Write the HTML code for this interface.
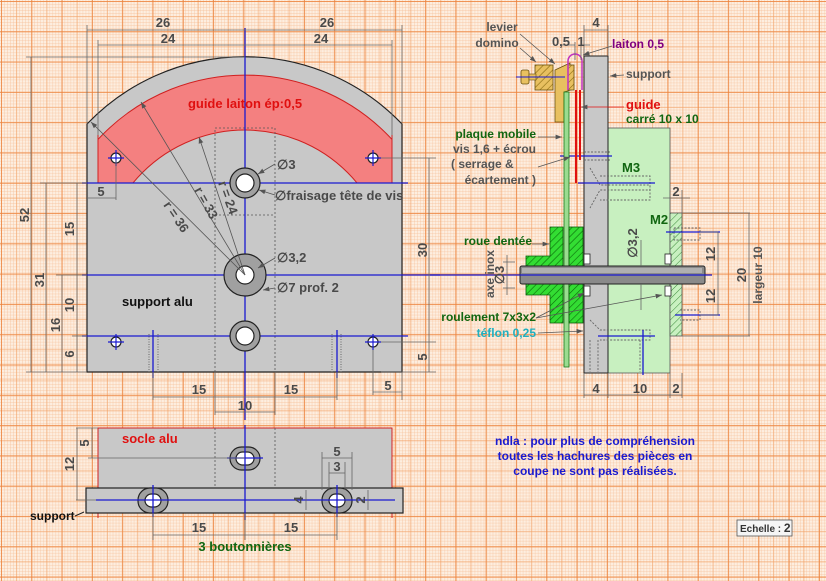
<!DOCTYPE html>
<html><head><meta charset="utf-8"><style>
html,body{margin:0;padding:0;}
body{width:826px;height:581px;overflow:hidden;background-color:#fdeee0;
background-image:
linear-gradient(90deg,rgba(236,130,60,.7) 1px,transparent 1px),
linear-gradient(rgba(236,130,60,.7) 1px,transparent 1px),
linear-gradient(90deg,rgba(242,160,100,.55) 1px,transparent 1px),
linear-gradient(rgba(242,160,100,.55) 1px,transparent 1px),
linear-gradient(90deg,rgba(246,190,150,.4) 1px,transparent 1px),
linear-gradient(rgba(246,190,150,.4) 1px,transparent 1px);
background-size:30.3px 30.3px,30.3px 30.3px,15.15px 15.15px,15.15px 15.15px,3.03px 3.03px,3.03px 3.03px;
background-position:1px 1px;}
svg{position:absolute;left:0;top:0;}
text{font-family:"Liberation Sans",sans-serif;font-weight:bold;}
.d{fill:#4a4a4a;font-size:13px;}
.g{fill:#555;font-size:12px;}
</style></head><body>
<svg width="826" height="581" viewBox="0 0 826 581">
<defs>
<marker id="a" markerWidth="8" markerHeight="6" refX="8" refY="3" orient="auto"><path d="M0,0 L8,3 L0,6z" fill="#555"/></marker>
<pattern id="hy" width="5" height="5" patternUnits="userSpaceOnUse" patternTransform="rotate(45)"><rect width="5" height="5" fill="#e8c060"/><line x1="0" y1="0" x2="0" y2="5" stroke="#8a6a10" stroke-width="1.2"/></pattern>
<pattern id="hg" width="5" height="5" patternUnits="userSpaceOnUse" patternTransform="rotate(45)"><rect width="5" height="5" fill="#33dd33"/><line x1="0" y1="0" x2="0" y2="5" stroke="#0a6a0a" stroke-width="1.2"/></pattern>
<pattern id="hl" width="5" height="5" patternUnits="userSpaceOnUse" patternTransform="rotate(45)"><rect width="5" height="5" fill="#c8f0c0"/><line x1="0" y1="0" x2="0" y2="5" stroke="#3a8a3a" stroke-width="1"/></pattern>
<clipPath id="cp"><rect x="98" y="40" width="294" height="143"/></clipPath>
</defs>

<path d="M87,372 L87,124 A218,218 0 0 1 402,124 L402,372 Z" fill="#c8c8c8" stroke="#222" stroke-width="1.2"/>
<g clip-path="url(#cp)">
<path d="M45,275 A200,200 0 0 1 445,275 L390,275 A145,145 0 0 0 100,275 Z" fill="#f48080" stroke="#d02020" stroke-width="1"/>
</g>
<line x1="98" y1="135" x2="98" y2="183" stroke="#d02020"/>
<line x1="392" y1="135" x2="392" y2="183" stroke="#d02020"/>
<path d="M215,372 L215,128 L275,128 L275,372 M215,215 L275,215" fill="none" stroke="#555" stroke-dasharray="2,2" stroke-width="0.8"/>
<g stroke="#1a1ad0" stroke-width="1.3">
<line x1="245" y1="28" x2="245" y2="420"/>
<line x1="82" y1="183" x2="408" y2="183"/>
<line x1="82" y1="275" x2="440" y2="275"/>
<line x1="82" y1="336" x2="408" y2="336"/>
<line x1="153" y1="330" x2="153" y2="378"/><line x1="337" y1="330" x2="337" y2="378"/>
</g>
<g stroke="#666" stroke-dasharray="1,1.5" stroke-width="1"><line x1="149" y1="334" x2="149" y2="372"/><line x1="158" y1="334" x2="158" y2="372"/><line x1="332" y1="334" x2="332" y2="372"/><line x1="341" y1="334" x2="341" y2="372"/></g>
<g stroke="#222" stroke-width="1.2">
<circle cx="245" cy="183" r="15" fill="#a0a0a0"/><circle cx="245" cy="183" r="9" fill="#fff"/>
<circle cx="245" cy="275" r="21" fill="#a0a0a0"/><circle cx="245" cy="275" r="9" fill="#fff"/>
<circle cx="245" cy="336" r="15" fill="#a0a0a0"/><circle cx="245" cy="336" r="9" fill="#fff"/>
<circle cx="116" cy="158" r="5" fill="#fff"/><circle cx="373" cy="158" r="5" fill="#fff"/>
<circle cx="116" cy="342" r="5" fill="#fff"/><circle cx="373" cy="342" r="5" fill="#fff"/>
</g>
<g stroke="#1a1ad0" stroke-width="1.2"><path d="M108,158h16M116,150v16M365,158h16M373,150v16M108,342h16M116,334v16M365,342h16M373,334v16"/></g>
<g stroke="#555" stroke-width="0.8"><line x1="245" y1="275" x2="91" y2="122" marker-end="url(#a)"/><line x1="245" y1="275" x2="141" y2="102" marker-end="url(#a)"/><line x1="245" y1="275" x2="199" y2="137" marker-end="url(#a)"/></g>
<text class="d" transform="translate(163,205) rotate(56)">r = 36</text>
<text class="d" transform="translate(194,190) rotate(61)">r = 33</text>
<text class="d" transform="translate(218,183) rotate(70)">r = 24</text>
<text x="245" y="108" text-anchor="middle" fill="#e01010" font-size="13">guide laiton ép:0,5</text>
<text class="d" x="277" y="169">∅3</text>
<text class="d" x="275" y="200">∅fraisage tête de vis</text>
<text class="d" x="277" y="262">∅3,2</text>
<text class="d" x="277" y="292">∅7 prof. 2</text>
<text x="122" y="306" fill="#111" font-size="13">support alu</text>
<g stroke="#555" stroke-width="0.8"><line x1="275" y1="164" x2="258" y2="174" marker-end="url(#a)"/><line x1="275" y1="195" x2="259" y2="190" marker-end="url(#a)"/><line x1="275" y1="258" x2="258" y2="268" marker-end="url(#a)"/><line x1="275" y1="288" x2="263" y2="290" marker-end="url(#a)"/></g>

<g stroke="#666" stroke-width="0.8" fill="none">
<path d="M87,25V124M402,25V124M98,40V135M392,40V135M26,57H245M26,372H87M40,183H87M56,275H87M72,336H87"/>
<line x1="87" y1="30" x2="245" y2="30"/><line x1="245" y1="30" x2="402" y2="30"/>
<line x1="98" y1="45" x2="245" y2="45"/><line x1="245" y1="45" x2="392" y2="45"/>
<line x1="31" y1="57" x2="31" y2="372"/><line x1="46" y1="183" x2="46" y2="372"/><line x1="62" y1="275" x2="62" y2="372"/><line x1="77" y1="183" x2="77" y2="372"/>
<line x1="87" y1="198" x2="116" y2="198"/><line x1="116" y1="160" x2="116" y2="200"/>
<path d="M381,158H436M381,342H436M381,372H436"/>
<line x1="429" y1="158" x2="429" y2="372"/>
<path d="M153,372V400M337,372V400M402,372V400M373,350V395"/>
<line x1="153" y1="397" x2="337" y2="397"/><line x1="373" y1="392" x2="402" y2="392"/>
<line x1="215" y1="372" x2="215" y2="415"/><line x1="275" y1="372" x2="275" y2="415"/><line x1="215" y1="412" x2="275" y2="412"/>
</g>
<text class="d" x="163" y="27" text-anchor="middle">26</text><text class="d" x="327" y="27" text-anchor="middle">26</text>
<text class="d" x="168" y="43" text-anchor="middle">24</text><text class="d" x="321" y="43" text-anchor="middle">24</text>
<text class="d" x="101" y="196" text-anchor="middle">5</text>
<text class="d" transform="translate(29,215) rotate(-90)" text-anchor="middle">52</text>
<text class="d" transform="translate(44,280) rotate(-90)" text-anchor="middle">31</text>
<text class="d" transform="translate(60,325) rotate(-90)" text-anchor="middle">16</text>
<text class="d" transform="translate(74,229) rotate(-90)" text-anchor="middle">15</text>
<text class="d" transform="translate(74,305) rotate(-90)" text-anchor="middle">10</text>
<text class="d" transform="translate(74,354) rotate(-90)" text-anchor="middle">6</text>
<text class="d" transform="translate(427,250) rotate(-90)" text-anchor="middle">30</text>
<text class="d" transform="translate(427,357) rotate(-90)" text-anchor="middle">5</text>
<text class="d" x="199" y="394" text-anchor="middle">15</text><text class="d" x="291" y="394" text-anchor="middle">15</text>
<text class="d" x="388" y="390" text-anchor="middle">5</text>
<text class="d" x="245" y="410" text-anchor="middle">10</text>

<rect x="98" y="428" width="294" height="60" fill="#c8c8c8"/>
<path d="M98,518V428H392V518" fill="none" stroke="#d02020" stroke-width="1"/>
<path d="M215,428V488M275,428V488" stroke="#555" stroke-dasharray="2,2" stroke-width="0.8"/>
<rect x="86" y="488" width="317" height="25" fill="#c8c8c8" stroke="#222" stroke-width="1.2"/>
<g stroke="#222" stroke-width="1.2">
<rect x="230" y="447" width="30" height="23" rx="11.5" fill="#a0a0a0"/><rect x="236" y="452" width="18" height="13" rx="6.5" fill="#fff"/>
<rect x="138" y="488" width="30" height="25" rx="12" fill="#a0a0a0"/><rect x="145" y="494" width="16" height="13" rx="6.5" fill="#fff"/>
<rect x="322" y="488" width="30" height="25" rx="12" fill="#a0a0a0"/><rect x="329" y="494" width="16" height="13" rx="6.5" fill="#fff"/>
</g>
<g stroke="#1a1ad0" stroke-width="1.3"><path d="M96,500H395M245,425V520M153,485V517M337,485V517M227,458H263"/></g>
<text x="122" y="443" fill="#e01010" font-size="13">socle alu</text>
<g stroke="#666" stroke-width="0.8" fill="none">
<path d="M76,428H98M88,458H245M76,500H96"/><line x1="77" y1="428" x2="77" y2="500"/><line x1="92" y1="428" x2="92" y2="458"/>
<path d="M322,452V490M352,452V490M329,462V490M345,462V490"/><line x1="322" y1="458" x2="352" y2="458"/><line x1="329" y1="473" x2="345" y2="473"/>
<line x1="306" y1="490" x2="306" y2="510"/><line x1="368" y1="490" x2="368" y2="510"/>
<path d="M153,513V540M245,513V540M337,513V540"/><line x1="153" y1="535" x2="337" y2="535"/>
</g>
<text class="d" transform="translate(74,464) rotate(-90)" text-anchor="middle">12</text>
<text class="d" transform="translate(89,443) rotate(-90)" text-anchor="middle">5</text>
<text class="d" x="337" y="456" text-anchor="middle">5</text><text class="d" x="337" y="471" text-anchor="middle">3</text>
<text class="d" transform="translate(303,500) rotate(-90)" text-anchor="middle" font-size="10">4</text>
<text class="d" transform="translate(365,500) rotate(-90)" text-anchor="middle" font-size="10">2</text>
<text class="d" x="199" y="532" text-anchor="middle">15</text><text class="d" x="291" y="532" text-anchor="middle">15</text>
<text x="245" y="551" text-anchor="middle" fill="#116611" font-size="13">3 boutonnières</text>
<text x="30" y="520" fill="#111" font-size="12">support</text>
<line x1="75" y1="516" x2="84" y2="512" stroke="#222" stroke-width="1"/>

<rect x="608" y="128" width="62" height="245" fill="#c8f0c0" stroke="#555" stroke-width="0.8"/>
<rect x="670" y="213" width="12" height="123" fill="url(#hl)" stroke="#555" stroke-width="0.8"/>
<rect x="584" y="56" width="24" height="317" fill="#c8c8c8" stroke="#222" stroke-width="1"/>
<g stroke="#666" stroke-dasharray="2,1.5" stroke-width="0.9" fill="none">
<path d="M584,152H610M584,160H610"/>
<path d="M590,168L600,185H650V190H600L590,208"/><path d="M600,176H650V200H600"/>
<path d="M590,320L600,330H650V340H600M590,340V372M598,340V372M640,340V372"/>
<path d="M674,228H700V240H674V228M680,310H700V320H680"/>
</g>
<g stroke="#1a1ad0" stroke-width="1.3"><path d="M560,156H612M578,183H655M598,336H655M643,330V375M666,232H720M675,315H720"/></g>
<path d="M555,70L570,63L571,90L564,92L564,122H555Z" fill="#e8c060" stroke="#6a5010" stroke-width="0.8"/>
<rect x="535" y="65" width="18" height="25" fill="url(#hy)" stroke="#6a5010" stroke-width="0.8"/>
<rect x="568" y="65" width="6" height="25" fill="url(#hy)" stroke="#6a5010" stroke-width="0.8"/>
<rect x="521" y="70" width="8" height="14" rx="2" fill="#e8c060" stroke="#6a5010" stroke-width="0.8"/>
<rect x="529" y="74" width="7" height="6" fill="#e8c060" stroke="#6a5010" stroke-width="0.6"/>
<line x1="516" y1="77" x2="565" y2="77" stroke="#1a1ad0" stroke-width="1"/>
<path d="M568,90V61A7,7 0 0 1 582,61V90" fill="none" stroke="#c030c0" stroke-width="1.5"/>
<path d="M576,90V183M580,90V160" stroke="#e01010" stroke-width="2"/>
<rect x="564" y="92" width="5" height="275" fill="#9adc90" stroke="#1a7a1a" stroke-width="0.8"/>
<path d="M550,227H563V323H550V295H526V256H550Z" fill="url(#hg)" stroke="#0a5a0a" stroke-width="0.8"/>
<rect x="569" y="227" width="14" height="96" fill="url(#hg)" stroke="#0a5a0a" stroke-width="0.8"/>
<rect x="584" y="254" width="6" height="10" fill="#fff" stroke="#222" stroke-width="0.8"/><rect x="584" y="286" width="6" height="10" fill="#fff" stroke="#222" stroke-width="0.8"/>
<rect x="665" y="254" width="6" height="10" fill="#fff" stroke="#222" stroke-width="0.8"/><rect x="665" y="286" width="6" height="10" fill="#fff" stroke="#222" stroke-width="0.8"/>
<rect x="520" y="266" width="185" height="18" rx="2" fill="#8a8a8a" stroke="#222" stroke-width="1"/>
<rect x="522" y="268" width="180" height="5" fill="#b0b0b0"/>
<line x1="430" y1="275" x2="712" y2="275" stroke="#1a1ad0" stroke-width="1.2"/>
<g stroke="#666" stroke-width="0.8" fill="none">
<path d="M584,25V56M608,25V56M575,42V60M581,42V60"/><line x1="584" y1="30" x2="608" y2="30"/>
<line x1="560" y1="45" x2="575" y2="45"/><line x1="581" y1="45" x2="590" y2="45"/>
<path d="M670,190V213M682,190V213"/><line x1="663" y1="198" x2="690" y2="198"/>
<line x1="641" y1="240" x2="641" y2="266"/><line x1="641" y1="284" x2="641" y2="310"/>
<path d="M682,213H750M682,336H750M700,232H718M700,315H718"/>
<line x1="718" y1="232" x2="718" y2="275"/><line x1="718" y1="275" x2="718" y2="315"/>
<line x1="749" y1="213" x2="749" y2="336"/>
<line x1="503" y1="262" x2="515" y2="262"/><line x1="503" y1="288" x2="515" y2="288"/><line x1="507" y1="255" x2="507" y2="295"/>
<path d="M584,373V398M608,373V398M670,373V398M682,373V398"/><line x1="584" y1="395" x2="682" y2="395"/>
</g>
<text class="d" x="596" y="27" text-anchor="middle">4</text>
<text class="d" x="561" y="46" text-anchor="middle" font-size="12">0,5</text>
<text class="d" x="581" y="46" text-anchor="middle" font-size="12">1</text>
<text class="g" x="502" y="31" text-anchor="middle">levier</text>
<text class="g" x="497" y="47" text-anchor="middle">domino</text>
<g stroke="#555" stroke-width="0.8"><line x1="520" y1="34" x2="555" y2="64" marker-end="url(#a)"/><line x1="520" y1="48" x2="536" y2="62" marker-end="url(#a)"/><line x1="612" y1="46" x2="583" y2="55" marker-end="url(#a)"/><line x1="624" y1="75" x2="610" y2="76" marker-end="url(#a)"/><line x1="624" y1="107" x2="581" y2="107" stroke="#e01010" marker-end="url(#a)"/><line x1="538" y1="137" x2="562" y2="137" marker-end="url(#a)"/><line x1="538" y1="167" x2="570" y2="157" marker-end="url(#a)"/><line x1="532" y1="244" x2="549" y2="244" marker-end="url(#a)"/><line x1="536" y1="318" x2="584" y2="293" marker-end="url(#a)"/><line x1="536" y1="318" x2="662" y2="295" marker-end="url(#a)"/><line x1="538" y1="333" x2="583" y2="331" marker-end="url(#a)"/></g>
<text x="612" y="48" fill="#800080" font-size="12">laiton 0,5</text>
<text class="g" x="626" y="78">support</text>
<text x="626" y="109" fill="#e01010" font-size="13">guide</text>
<text x="626" y="123" fill="#116611" font-size="12">carré 10 x 10</text>
<text x="536" y="138" fill="#116611" font-size="12" text-anchor="end">plaque mobile</text>
<text class="g" x="536" y="153" text-anchor="end">vis 1,6 + écrou</text>
<text class="g" x="451" y="168">( serrage &amp;</text>
<text class="g" x="536" y="184" text-anchor="end">écartement )</text>
<text x="622" y="172" fill="#116611" font-size="13">M3</text>
<text x="650" y="224" fill="#116611" font-size="13">M2</text>
<text class="d" x="676" y="196" text-anchor="middle">2</text>
<text x="532" y="245" fill="#116611" font-size="12" text-anchor="end">roue dentée</text>
<text class="g" transform="translate(494,298) rotate(-90)" font-size="13">axe inox</text>
<text class="d" transform="translate(504,275) rotate(-90)" text-anchor="middle" font-size="12">∅3</text>
<text class="d" transform="translate(637,243) rotate(-90)" text-anchor="middle" font-size="12">∅3,2</text>
<text class="d" transform="translate(715,254) rotate(-90)" text-anchor="middle">12</text>
<text class="d" transform="translate(715,296) rotate(-90)" text-anchor="middle">12</text>
<text class="d" transform="translate(746,275) rotate(-90)" text-anchor="middle">20</text>
<text class="g" transform="translate(762,275) rotate(-90)" text-anchor="middle" font-size="13">largeur 10</text>
<text x="536" y="321" fill="#116611" font-size="12" text-anchor="end">roulement 7x3x2</text>
<text x="536" y="337" fill="#20b0c0" font-size="12" text-anchor="end">téflon 0,25</text>
<text class="d" x="596" y="393" text-anchor="middle">4</text>
<text class="d" x="640" y="393" text-anchor="middle">10</text>
<text class="d" x="676" y="393" text-anchor="middle">2</text>

<g fill="#1a1ad0" font-size="12" text-anchor="middle">
<text x="595" y="445">ndla : pour plus de compréhension</text>
<text x="595" y="460">toutes les hachures des pièces en</text>
<text x="595" y="475">coupe ne sont pas réalisées.</text>
</g>
<rect x="737" y="520" width="55" height="16" fill="#f5f5f5" stroke="#555" stroke-width="0.8"/>
<text x="740" y="532" fill="#333" font-size="10" font-weight="normal">Echelle : <tspan font-size="12" font-weight="bold">2</tspan></text>
</svg>
</body></html>
